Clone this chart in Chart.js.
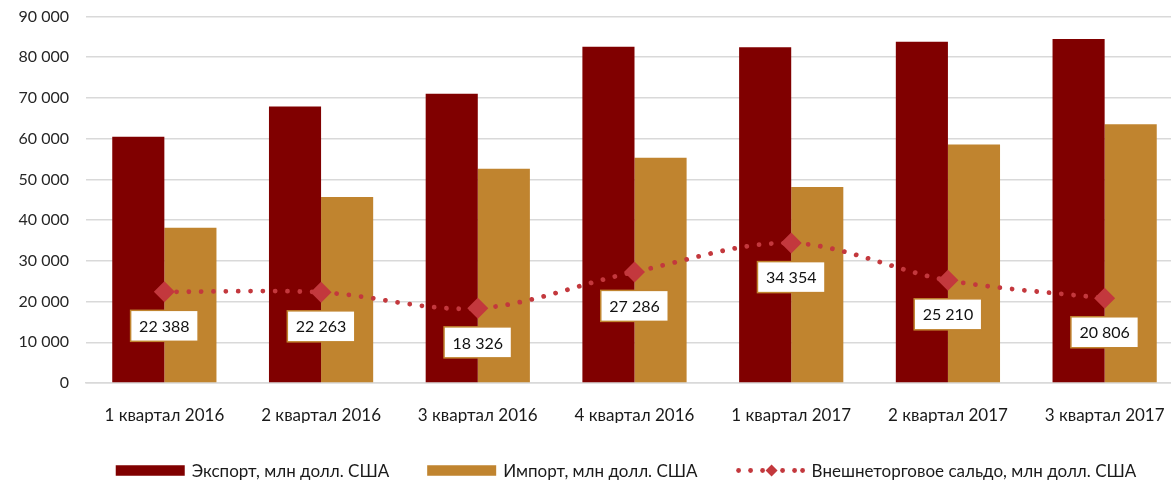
<!DOCTYPE html>
<html>
<head>
<meta charset="utf-8">
<script src="https://cdn.jsdelivr.net/npm/chart.js@4.4.1/dist/chart.umd.min.js"></script>
<style>
  html, body { margin: 0; padding: 0; background: #ffffff; overflow: hidden; width: 1171px; height: 480px; }
  #wrap { position: relative; width: 1183px; height: 480px; }
  #c { display: block; width: 1183px; height: 480px; }
</style>
</head>
<body>
<div id="wrap"><canvas id="c" width="1183" height="480"></canvas></div>
<script>
const categories = ['1 квартал 2016', '2 квартал 2016', '3 квартал 2016', '4 квартал 2016', '1 квартал 2017', '2 квартал 2017', '3 квартал 2017'];
const exportValues = [60500, 67900, 71000, 82600, 82450, 83800, 84450];
const importValues = [38100, 45700, 52600, 55300, 48150, 58550, 63550];
const balanceValues = [22388, 22263, 18326, 27286, 34354, 25210, 20806];
const seriesNames = ['Экспорт, млн долл. США', 'Импорт, млн долл. США', 'Внешнеторговое сальдо, млн долл. США'];
const yMin = 0, yMax = 90000, yStep = 10000;

const EXPORT_COLOR = '#800000';
const IMPORT_COLOR = '#C0842F';
const LINE_COLOR = '#C3383D';
const FONT = 'Lato, "Open Sans", sans-serif';

function fmt(v) {
  return String(Math.round(v)).replace(/\B(?=(\d{3})+(?!\d))/g, ' ');
}

const labelPlugin = {
  id: 'balanceLabels',
  afterDatasetsDraw(chart) {
    const ctx = chart.ctx;
    const idx = chart.data.datasets.findIndex(d => d.type === 'line');
    const meta = chart.getDatasetMeta(idx);
    ctx.save();
    ctx.font = '16px ' + FONT;
    ctx.textAlign = 'center';
    ctx.textBaseline = 'middle';
    meta.data.forEach((pt, i) => {
      const text = fmt(chart.data.datasets[idx].data[i]);
      const w = ctx.measureText(text).width + 17;
      const h = 31;
      const cx = pt.x;
      const cy = pt.y + 34;
      ctx.fillStyle = '#ffffff';
      ctx.fillRect(cx - w / 2, cy - h / 2, w, h);
      ctx.strokeStyle = IMPORT_COLOR;
      ctx.lineWidth = 1.5;
      ctx.strokeRect(cx - w / 2, cy - h / 2, w, h);
      ctx.fillStyle = '#111111';
      ctx.fillText(text, cx, cy + 1);
    });
    ctx.restore();
  }
};

const legendPlugin = {
  id: 'customLegend',
  afterDraw(chart) {
    const ctx = chart.ctx;
    ctx.save();
    ctx.font = '17px ' + FONT;
    ctx.textBaseline = 'middle';
    ctx.textAlign = 'left';
    const sw = 69, gapText = 7, gapItem = 38;
    const ds = chart.data.datasets;
    const order = [1, 2, 0];
    const items = order.map(i => ({ ds: ds[i], w: sw + gapText + ctx.measureText(ds[i].label).width }));
    const total = items.reduce((a, b) => a + b.w, 0) + gapItem * (items.length - 1);
    let x = 626 - total / 2;
    const y = 470.5;
    items.forEach(it => {
      const d = it.ds;
      if (d.type === 'line') {
        ctx.fillStyle = LINE_COLOR;
        [3, 15, 27, 47, 59, 67].forEach(dx => {
          ctx.beginPath();
          ctx.arc(x + dx, y, 2.4, 0, Math.PI * 2);
          ctx.fill();
        });
        ctx.beginPath();
        ctx.moveTo(x + 36, y - 6);
        ctx.lineTo(x + 42, y);
        ctx.lineTo(x + 36, y + 6);
        ctx.lineTo(x + 30, y);
        ctx.closePath();
        ctx.fill();
      } else {
        ctx.fillStyle = d.backgroundColor;
        ctx.fillRect(x, y - 5.25, sw, 10.5);
      }
      ctx.fillStyle = '#1a1a1a';
      ctx.fillText(d.label, x + sw + gapText, y + 1);
      x += it.w + gapItem;
    });
    ctx.restore();
  }
};

new Chart(document.getElementById('c'), {
  data: {
    labels: categories,
    datasets: [
      {
        type: 'line',
        label: seriesNames[2],
        data: balanceValues,
        order: 0,
        borderColor: LINE_COLOR,
        backgroundColor: LINE_COLOR,
        borderWidth: 4.8,
        borderDash: [0.01, 12.3],
        borderCapStyle: 'round',
        tension: 0.33,
        fill: false,
        pointStyle: 'rectRot',
        pointRadius: 10.5,
        pointHoverRadius: 10.5,
        pointBackgroundColor: LINE_COLOR,
        pointBorderWidth: 0
      },
      {
        type: 'bar',
        label: seriesNames[0],
        data: exportValues,
        order: 1,
        backgroundColor: EXPORT_COLOR,
        borderWidth: 0,
        categoryPercentage: 0.665,
        barPercentage: 1.0
      },
      {
        type: 'bar',
        label: seriesNames[1],
        data: importValues,
        order: 1,
        backgroundColor: IMPORT_COLOR,
        borderWidth: 0,
        categoryPercentage: 0.665,
        barPercentage: 1.0
      }
    ]
  },
  options: {
    responsive: false,
    maintainAspectRatio: false,
    devicePixelRatio: 1,
    animation: false,
    events: [],
    layout: { autoPadding: false, padding: { top: 16.5, bottom: 57, left: 0, right: 0 } },
    plugins: {
      legend: { display: false },
      tooltip: { enabled: false }
    },
    scales: {
      x: {
        grid: { display: false, drawTicks: false },
        border: { display: true, color: '#d9d9d9', width: 1.5 },
        ticks: { font: { family: FONT, size: 17 }, color: '#1a1a1a', padding: 22, maxRotation: 0, autoSkip: false },
        afterFit(scale) { scale.height = 40; scale.paddingLeft = 0; scale.paddingRight = 0; }
      },
      y: {
        min: yMin,
        max: yMax,
        grid: { color: '#d9d9d9', lineWidth: 1.5, drawTicks: false },
        border: { display: false },
        ticks: {
          stepSize: yStep,
          font: { family: FONT, size: 16 },
          color: '#262626',
          padding: 17,
          callback: v => fmt(v)
        },
        afterFit(scale) { scale.width = 86; scale.paddingTop = 0; scale.paddingBottom = 0; }
      }
    }
  },
  plugins: [labelPlugin, legendPlugin]
});
</script>
</body>
</html>
